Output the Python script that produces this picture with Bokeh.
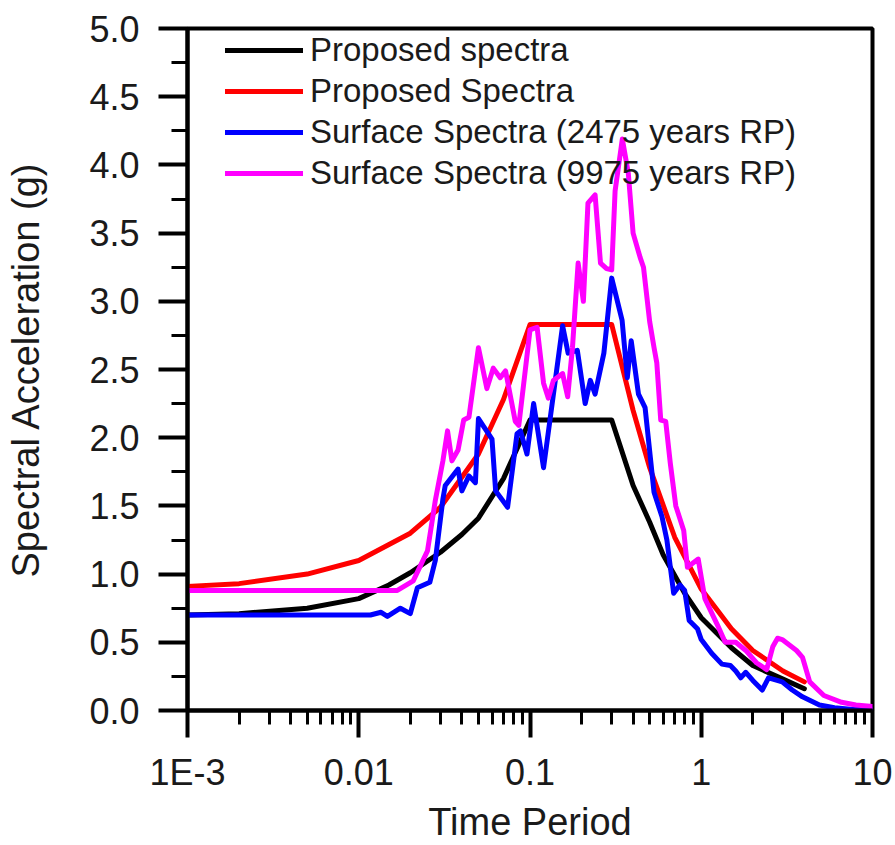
from bokeh.plotting import figure
from bokeh.models import (FixedTicker, SingleIntervalTicker, NumeralTickFormatter,
                          Legend, LegendItem, Range1d)
from bokeh.embed import file_html
from bokeh.resources import INLINE

# ---------------- data ----------------
x_ticks = [0.001, 0.01, 0.1, 1, 10]
x_tick_labels = ["1E-3", "0.01", "0.1", "1", "10"]

black_T = [0.001, 0.002, 0.005, 0.01, 0.015, 0.02, 0.03, 0.04, 0.05, 0.07, 0.1,
           0.3, 0.4, 0.5, 0.6, 0.8, 1.0, 1.5, 2.0, 3.0, 4.0]
black_Sa = [0.70, 0.71, 0.75, 0.82, 0.92, 1.01, 1.16, 1.29, 1.41, 1.70, 2.13,
            2.13, 1.65, 1.38, 1.14, 0.86, 0.68, 0.46, 0.33, 0.23, 0.16]

red_T = [0.001, 0.002, 0.005, 0.01, 0.02, 0.03, 0.05, 0.07, 0.1,
         0.3, 0.4, 0.5, 0.7, 1.0, 1.5, 2.0, 3.0, 4.0]
red_Sa = [0.91, 0.93, 1.00, 1.10, 1.30, 1.49, 1.88, 2.28, 2.83,
          2.83, 2.20, 1.78, 1.27, 0.89, 0.60, 0.44, 0.29, 0.21]

blue_T = [0.001, 0.0117, 0.0135, 0.0147, 0.0175, 0.020, 0.022, 0.026, 0.028, 0.031,
          0.032, 0.038, 0.040, 0.044, 0.048, 0.050, 0.060, 0.063, 0.074, 0.084,
          0.088, 0.096, 0.105, 0.120, 0.155, 0.167, 0.189, 0.21, 0.225, 0.24,
          0.27, 0.30, 0.345, 0.37, 0.39, 0.43, 0.47, 0.53, 0.59, 0.63,
          0.69, 0.75, 0.80, 0.85, 0.95, 1.0, 1.15, 1.32, 1.48, 1.59,
          1.70, 1.82, 2.0, 2.27, 2.47, 2.62, 2.97, 3.4, 3.9, 4.9,
          6.0, 7.4, 10.0]
blue_Sa = [0.70, 0.70, 0.72, 0.69, 0.75, 0.71, 0.90, 0.94, 1.10, 1.55,
           1.65, 1.77, 1.61, 1.72, 1.67, 2.14, 1.99, 1.61, 1.49, 2.03,
           2.05, 1.88, 2.25, 1.78, 2.82, 2.62, 2.64, 2.25, 2.42, 2.32,
           2.62, 3.17, 2.86, 2.44, 2.71, 2.32, 2.22, 1.60, 1.42, 1.25,
           0.86, 0.92, 0.88, 0.66, 0.60, 0.52, 0.42, 0.34, 0.33, 0.29,
           0.24, 0.28, 0.22, 0.15, 0.24, 0.23, 0.21, 0.15, 0.10, 0.04,
           0.02, 0.01, 0.01]

magenta_T = [0.001, 0.0168, 0.0208, 0.0252, 0.028, 0.031, 0.033, 0.035, 0.038, 0.041,
             0.044, 0.050, 0.056, 0.061, 0.067, 0.072, 0.082, 0.086, 0.100, 0.110,
             0.120, 0.128, 0.137, 0.155, 0.166, 0.177, 0.191, 0.205, 0.218, 0.240,
             0.258, 0.28, 0.30, 0.314, 0.346, 0.375, 0.40, 0.44, 0.46, 0.50,
             0.53, 0.55, 0.58, 0.62, 0.66, 0.71, 0.79, 0.83, 0.96, 1.05,
             1.25, 1.38, 1.59, 1.82, 2.1, 2.41, 2.62, 2.79, 2.97, 3.6,
             3.9, 4.3, 5.2, 6.6, 8.0, 10.0]
magenta_Sa = [0.88, 0.88, 0.95, 1.17, 1.54, 1.83, 2.05, 1.83, 1.91, 2.13,
              2.15, 2.66, 2.36, 2.51, 2.44, 2.49, 2.12, 2.09, 2.79, 2.81,
              2.40, 2.29, 2.42, 2.47, 2.30, 2.66, 3.28, 3.00, 3.72, 3.78,
              3.28, 3.24, 3.23, 3.81, 4.19, 3.94, 3.50, 3.32, 3.25, 2.85,
              2.66, 2.55, 2.13, 2.12, 1.81, 1.50, 1.32, 1.05, 1.11, 0.82,
              0.62, 0.50, 0.50, 0.44, 0.35, 0.30, 0.47, 0.53, 0.52, 0.44,
              0.39, 0.21, 0.11, 0.06, 0.04, 0.03]

series_names = ["Proposed spectra", "Proposed Spectra",
                "Surface Spectra (2475 years RP)", "Surface Spectra (9975 years RP)"]
series_colors = ["#000000", "#FF0000", "#0000FF", "#FF00FF"]

# ---------------- figure ----------------
FONT = "Liberation Sans"
p = figure(width=895, height=845, x_axis_type="log",
           x_range=Range1d(0.001, 10), y_range=Range1d(0, 5),
           output_backend="svg", toolbar_location=None,
           min_border_left=187, min_border_top=28, min_border_right=23,
           min_border_bottom=135)
p.background_fill_color = "white"
p.border_fill_color = "white"
p.grid.visible = False
p.outline_line_color = "black"
p.outline_line_width = 4

renderers = []
for T, Sa, c in [(black_T, black_Sa, series_colors[0]),
                 (red_T, red_Sa, series_colors[1]),
                 (blue_T, blue_Sa, series_colors[2]),
                 (magenta_T, magenta_Sa, series_colors[3])]:
    r = p.line(T, Sa, line_color=c, line_width=5, line_join="round", line_cap="round")
    renderers.append(r)

# x axis
minor = [m * d for d in [0.001, 0.01, 0.1, 1] for m in range(2, 10)]
xa = p.xaxis[0]
xa.ticker = FixedTicker(ticks=x_ticks, minor_ticks=minor)
xa.major_label_overrides = {t: l for t, l in zip(x_ticks, x_tick_labels)}
xa.axis_label = "Time Period"
xa.major_tick_out = 27
xa.major_tick_in = 0
xa.minor_tick_out = 14
xa.minor_tick_in = 0
xa.major_label_standoff = 14
xa.axis_label_standoff = 5

# y axis
ya = p.yaxis[0]
ya.ticker = SingleIntervalTicker(interval=0.5, num_minor_ticks=2)
ya.formatter = NumeralTickFormatter(format="0.0")
ya.axis_label = "Spectral Acceleration (g)"
ya.major_tick_out = 29
ya.major_tick_in = 0
ya.minor_tick_out = 16
ya.minor_tick_in = 0
ya.major_label_standoff = 19
ya.axis_label_standoff = 39

for ax in (xa, ya):
    ax.axis_line_width = 4
    ax.axis_line_color = "black"
    ax.major_tick_line_width = 4
    ax.minor_tick_line_width = 3
    ax.major_tick_line_color = "black"
    ax.minor_tick_line_color = "black"
    ax.major_label_text_font = FONT
    ax.major_label_text_font_size = "36px"
    ax.major_label_text_color = "#1a1a1a"
    ax.axis_label_text_font = FONT
    ax.axis_label_text_font_size = "38px"
    ax.axis_label_text_font_style = "normal"
    ax.axis_label_text_color = "#1a1a1a"

legend = Legend(items=[LegendItem(label=n, renderers=[r]) for n, r in zip(series_names, renderers)],
                location=(38, 518))
legend.border_line_alpha = 0
legend.background_fill_alpha = 0
legend.padding = 0
legend.margin = 0
legend.spacing = 3
legend.glyph_width = 78
legend.glyph_height = 30
legend.label_standoff = 7
legend.label_text_font = FONT
legend.label_text_font_size = "33px"
legend.label_text_color = "#1a1a1a"
p.add_layout(legend)

open("out.html", "w").write(file_html(p, INLINE))
